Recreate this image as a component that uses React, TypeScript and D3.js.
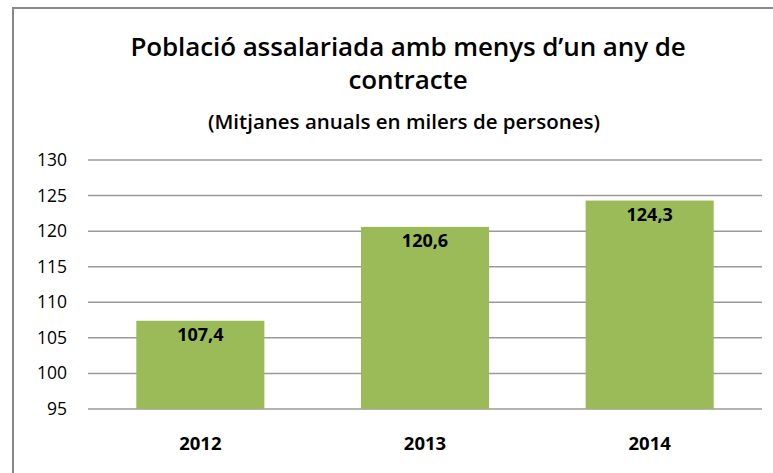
import React from "react";
import * as d3 from "d3";

const categories = ["2012", "2013", "2014"];
const values = [107.4, 120.6, 124.3];
const valueLabels = ["107,4", "120,6", "124,3"];
const yTicks = [95, 100, 105, 110, 115, 120, 125, 130];
const titleLines = ["Població assalariada amb menys d\u2019un any de", "contracte"];
const subtitle = "(Mitjanes  anuals en milers de persones)";

const W = 773, H = 473;
const plot = { left: 88, right: 762, top: 160, bottom: 409 };
const font = "'Open Sans', 'Noto Sans', sans-serif";

export default function App() {
  const x = d3.scaleBand<string>().domain(categories).range([plot.left, plot.right]).paddingInner(0.43).paddingOuter(0.215);
  const y = d3.scaleLinear().domain([95, 130]).range([plot.bottom, plot.top]);
  return (
    <svg width={W} height={H} style={{ position: "absolute", left: 0, top: 0, background: "#fff" }}>
      <rect x={0} y={0} width={W} height={H} fill="#fff" />
      <path d={`M13,${H} V8 H${W}`} fill="none" stroke="#888" strokeWidth={2} />
      {titleLines.map((t, i) => (
        <text key={i} x={408} y={56 + i * 33} textAnchor="middle" fontFamily={font} fontSize={26} fontWeight={600} fill="#000" letterSpacing={-0.1}>{t}</text>
      ))}
      <text x={404} y={129} textAnchor="middle" fontFamily={font} fontSize={20.5} fontWeight={600} fill="#000" letterSpacing={0}>{subtitle}</text>
      {yTicks.map((t) => (
        <g key={t}>
          <line x1={plot.left} x2={plot.right} y1={y(t)} y2={y(t)} stroke="#9a9a9a" strokeWidth={1.5} />
          <text x={67} y={y(t) + 6} textAnchor="end" fontFamily={font} fontSize={17.5} fill="#000">{t}</text>
        </g>
      ))}
      {categories.map((c, i) => (
        <g key={c}>
          <rect x={x(c)} y={y(values[i])} width={x.bandwidth()} height={y(95) - y(values[i])} fill="#9BBB59" />
          <text x={x(c)! + x.bandwidth() / 2} y={y(values[i]) + 20} textAnchor="middle" fontFamily={font} fontSize={18} fontWeight={700} fill="#000">{valueLabels[i]}</text>
          <text x={x(c)! + x.bandwidth() / 2} y={450} textAnchor="middle" fontFamily={font} fontSize={18.5} fontWeight={700} fill="#000">{c}</text>
        </g>
      ))}
    </svg>
  );
}
